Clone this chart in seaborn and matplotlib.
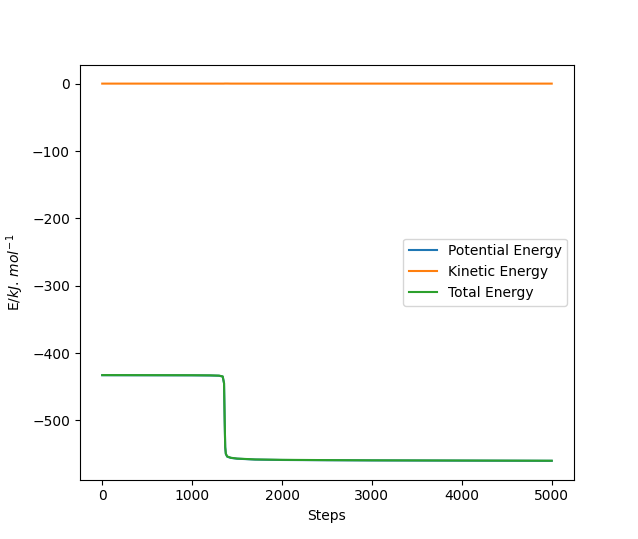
import matplotlib
matplotlib.use("Agg")
import matplotlib.pyplot as plt
import numpy as np
import seaborn as sns

# values
steps = [0, 500, 1000, 1200, 1300, 1340, 1355, 1362, 1368, 1375, 1390,
         1430, 1500, 1700, 2000, 2500, 3000, 4000, 5000]
potential = [-433.0, -433.1, -433.2, -433.4, -433.8, -435.0, -445.0, -500.0,
             -540.0, -550.0, -554.0, -555.8, -557.0, -558.3, -558.9,
             -559.3, -559.6, -559.9, -560.2]
kinetic = [0.2, 0.2, 0.2, 0.2, 0.2, 0.2, 0.2, 0.3, 0.3, 0.3, 0.3,
           0.2, 0.2, 0.2, 0.2, 0.2, 0.2, 0.2, 0.2]

steps = np.array(steps)
potential = np.array(potential)
kinetic = np.array(kinetic)
total = potential + kinetic

fig, ax = plt.subplots(figsize=(6.38, 5.39), dpi=100)
sns.lineplot(x=steps, y=potential, ax=ax, label="Potential Energy")
sns.lineplot(x=steps, y=kinetic, ax=ax, label="Kinetic Energy")
sns.lineplot(x=steps, y=total, ax=ax, label="Total Energy")

ax.set_xlabel("Steps")
ax.set_ylabel(r"E/$kJ.\,mol^{-1}$")
ax.legend(loc="center right")

fig.savefig("out.png", dpi=100)
